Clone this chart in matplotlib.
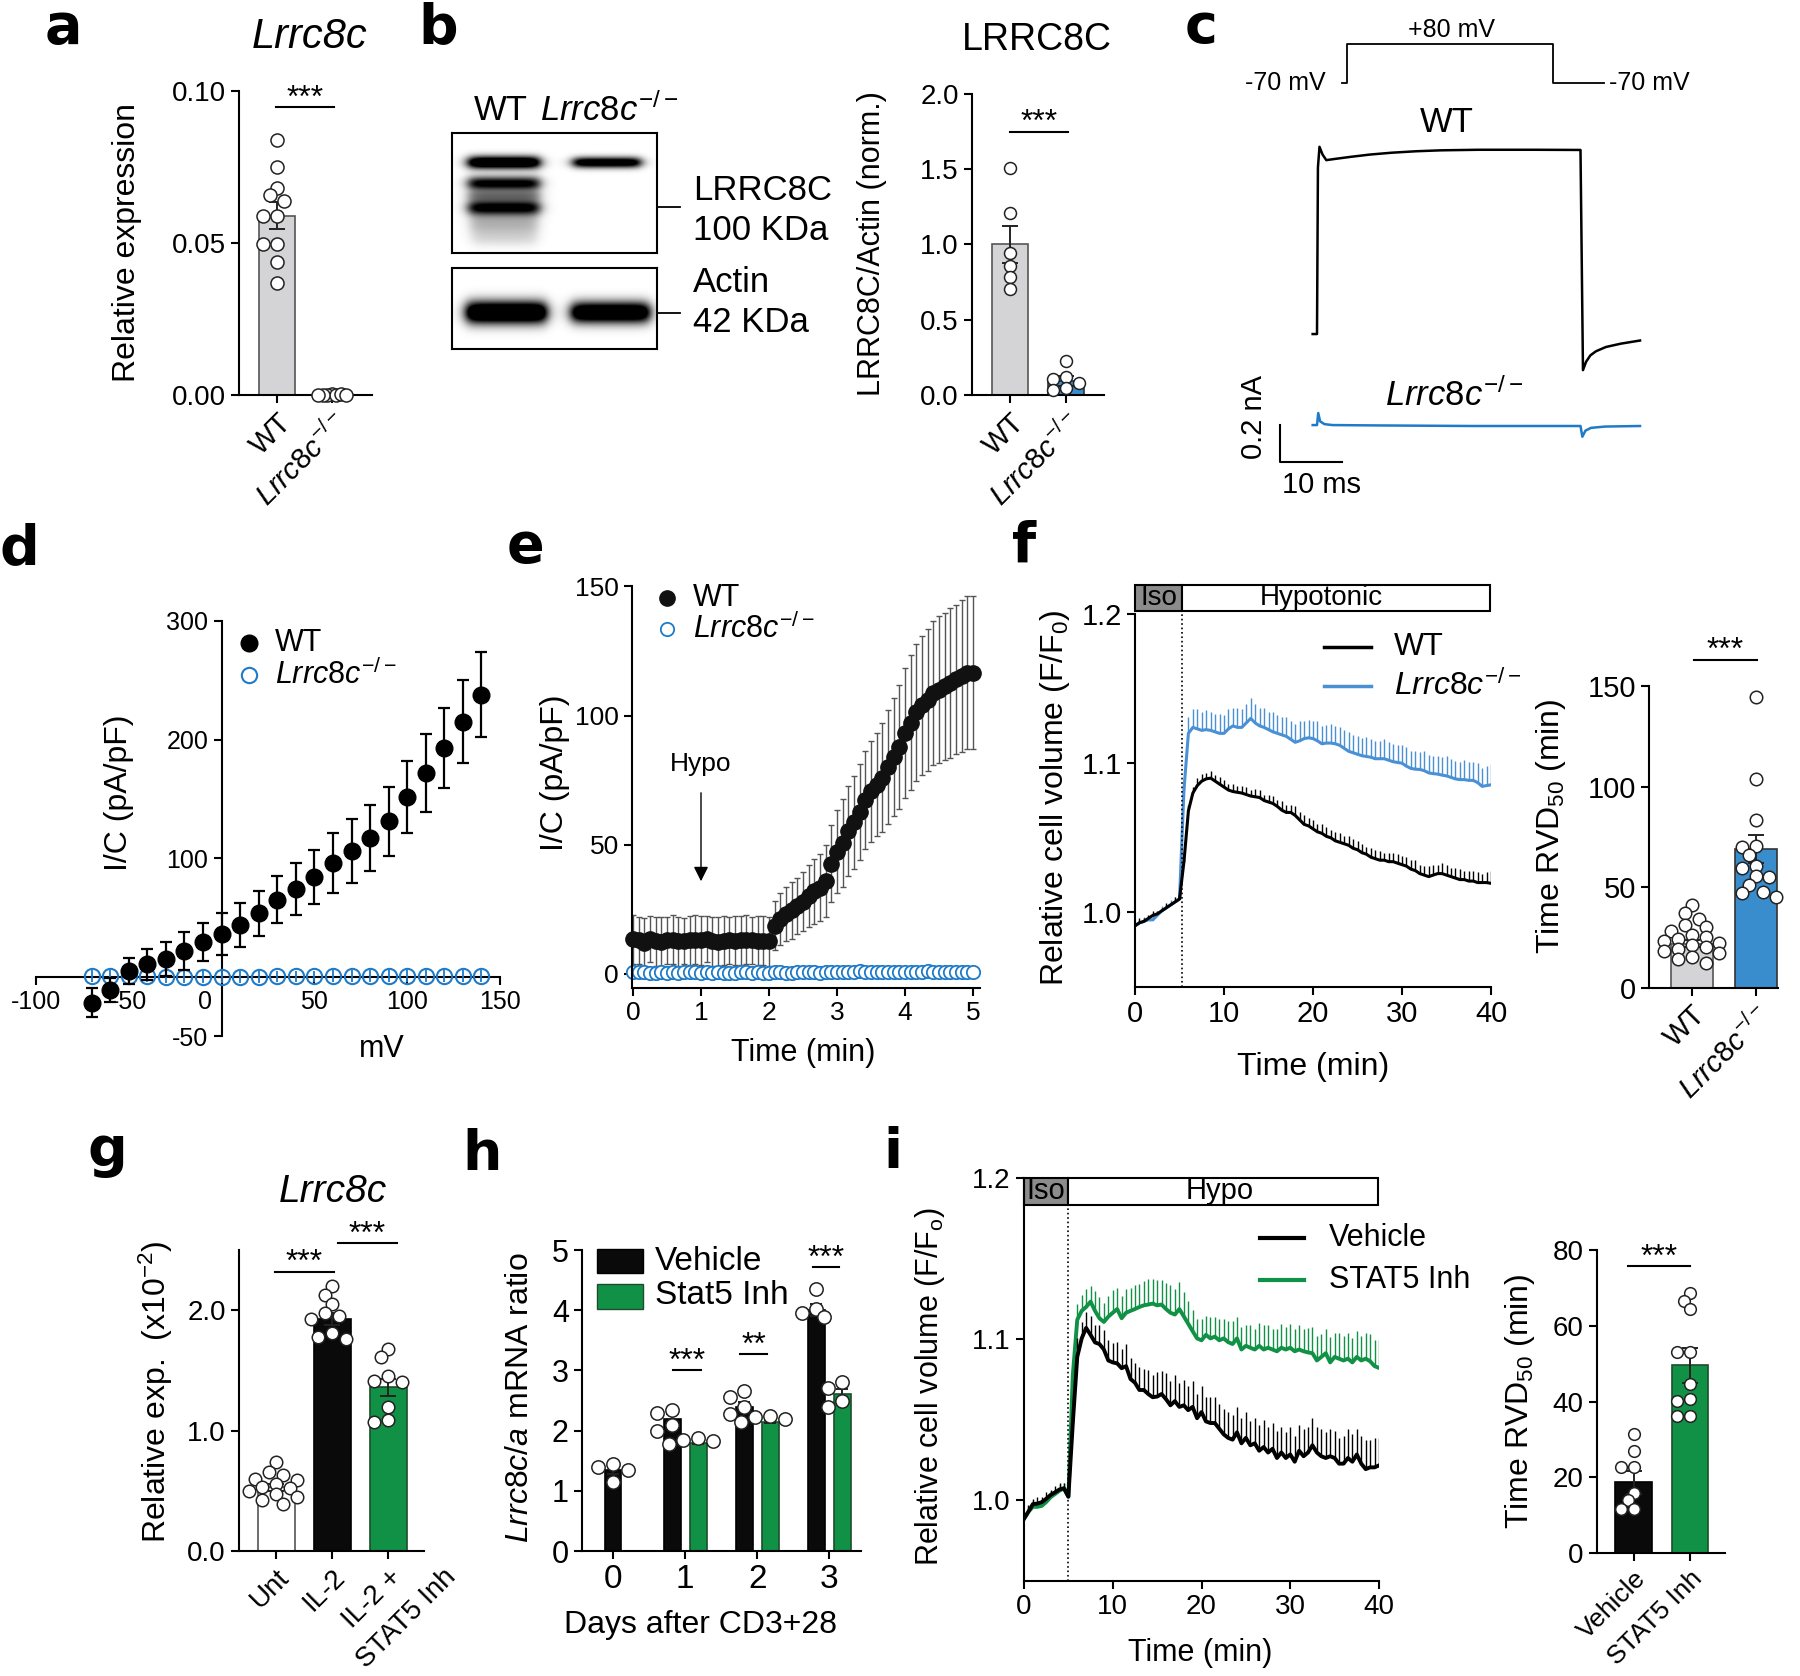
import numpy as np
import matplotlib
matplotlib.use("Agg")
import matplotlib.pyplot as plt
from matplotlib.patches import Rectangle
from matplotlib.lines import Line2D
from matplotlib.transforms import ScaledTranslation

plt.rcParams['font.family'] = ['Liberation Sans', 'DejaVu Sans']
plt.rcParams['mathtext.fontset'] = 'custom'
plt.rcParams['mathtext.rm'] = 'Liberation Sans'
plt.rcParams['mathtext.it'] = 'Liberation Sans:italic'
plt.rcParams['mathtext.bf'] = 'Liberation Sans:bold'
plt.rcParams['axes.unicode_minus'] = False
plt.rcParams['axes.linewidth'] = 1.5
plt.rcParams['xtick.major.width'] = 1.5
plt.rcParams['ytick.major.width'] = 1.5
plt.rcParams['xtick.major.size'] = 6
plt.rcParams['ytick.major.size'] = 6

KO = r'$\mathit{Lrrc8c}^{-/-}$'
BLUE = '#1f7bc8'
BLUE_F = '#4a90d4'
BLUE_BAR = '#3a8dcc'
GREEN = '#109146'
GREY_BAR = '#d4d4d6'

# ---------------- data ----------------
# a  qPCR Lrrc8c
a_means = [0.059, 0.0002]
a_sems = [0.0045, 0.0001]
a_wt_pts = [0.0838, 0.0750, 0.0682, 0.0657, 0.0637, 0.0588, 0.0588, 0.0498, 0.0498, 0.0438, 0.0369]
a_ko_pts = [0.0002, 0.0001, 0.0, 0.0001, 0.0002, 0.0, 0.0001]

# b  LRRC8C / actin
b_means = [1.0, 0.093]
b_sems = [0.12, 0.03]
b_wt_pts = [1.508, 1.208, 0.942, 0.854, 0.787, 0.703]
b_ko_pts = [0.226, 0.122, 0.104, 0.078, 0.044, 0.033]

# c  example currents (ms, nA) and voltage protocol
c_t_wt = [-0.7, 0.0, 0.15, 0.4, 0.9, 1.5, 3.0, 5.5, 8.5, 12.0, 16.0, 20.0, 26.0, 35.0, 42.5,
          42.9, 43.4, 44.1, 45.0, 46.6, 49.0, 52.1]
c_i_wt = [0.0, 0.0, 0.90, 1.012, 0.97, 0.94, 0.947, 0.958, 0.97, 0.98, 0.988, 0.993, 0.996, 0.996, 0.995,
          -0.195, -0.15, -0.115, -0.093, -0.07, -0.052, -0.035]
c_t_ko = [-0.7, 0.0, 0.2, 0.5, 1.2, 2.5, 10.0, 25.0, 42.5, 42.8, 43.3, 44.2, 46.5, 52.1]
c_i_ko = [0.0, 0.0, 0.065, 0.02, 0.005, 0.0, -0.002, -0.005, -0.005, -0.063, -0.03, -0.015, -0.008, -0.005]
c_step_t = [-0.8, 0.0, 0.0, 33.2, 33.2, 41.5]
c_step_v = [-70, -70, 80, 80, -70, -70]

# d  I/V relation
d_mv = [-70, -60, -50, -40, -30, -20, -10, 0, 10, 20, 30, 40, 50, 60, 70, 80, 90, 100, 110, 120, 130, 140]
d_wt = [-21.8, -11.0, 5.0, 10.6, 15.0, 22.0, 29.0, 36.0, 43.5, 53.5, 65.0, 74.0, 84.0, 96.0, 106.0,
        117.0, 131.0, 151.5, 171.5, 193.0, 215.0, 238.0]
d_wt_err = [12, 10, 11, 13, 14.5, 16, 16, 17.5, 18.5, 19, 20, 22, 23, 25, 27, 28, 29, 30.5, 33, 34, 35, 36]
d_ko = [0.5, 0.3, 0.2, 0.2, 0.1, 0.1, 0.0, 0.0, 0.1, 0.1, 0.2, 0.2, 0.2, 0.3, 0.3, 0.3, 0.4, 0.4, 0.4,
        0.5, 0.5, 0.5]
d_ko_err = 5.0

# e  current time course, sampled every 5 s
e_t = np.arange(61) * 5 / 60
e_wt = [13.5, 13.0, 12.0, 13.6, 12.6, 12.4, 13.0, 13.2, 12.6, 12.8, 13.1, 13.3, 13.0, 13.6, 12.6,
        12.5, 12.8, 13.0, 12.9, 13.1, 13.2, 13.0, 12.9, 12.8, 12.6,
        18.7, 21.3, 23.3, 24.7, 26.3, 28.0, 30.0, 32.0, 33.3, 36.0, 42.7, 47.3, 50.7, 55.3, 58.7,
        62.7, 67.3, 70.7, 73.3, 76.0, 80.0, 84.0, 88.0, 93.3, 97.3, 101.3, 104.0, 106.0, 108.7, 110.0,
        111.3, 112.7, 114.0, 115.3, 116.7, 116.7]
e_wt_err = [9.5, 9.0, 9.5, 9.0, 9.5, 9.5, 9.0, 9.5, 9.5, 9.0, 9.5, 9.5, 9.5, 9.0, 9.5,
            9.5, 9.5, 9.0, 9.5, 9.5, 9.5, 9.0, 9.5, 9.5, 9.5,
            9.5, 10.0, 10.5, 11.0, 11.0, 11.5, 12.0, 12.5, 13.0, 14.0, 15.0, 16.0, 17.0, 17.5, 18.0,
            18.5, 19.0, 19.5, 20.0, 21.0, 22.0, 23.0, 24.0, 25.0, 26.0, 26.5, 27.0, 27.5, 28.0, 28.5,
            28.5, 29.0, 29.0, 29.5, 29.5, 29.5]
e_ko = [0.8, 0.6, 0.7, 0.5, 0.3, 0.6, 0.4, 0.7, 0.5, 0.6,
        0.8, 0.6, 0.5, 0.7, 0.4, 0.6, 0.5, 0.3, 0.5, 0.6,
        0.7, 0.5, 0.6, 0.4, 0.5, 0.6, 0.7, 0.5, 0.4, 0.6,
        0.8, 0.7, 0.6, 0.5, 0.6, 0.7, 0.8, 0.6, 0.7, 0.9,
        1.2, 0.8, 0.7, 0.6, 0.7, 0.8, 0.6, 0.7, 0.9, 0.8,
        0.7, 0.8, 1.0, 0.9, 0.8, 0.7, 0.8, 0.6, 0.9, 0.8,
        0.9]
e_ko_err = 1.5

# f  cell volume (every 0.5 min) and RVD50
f_t = np.arange(81) * 0.5
f_wt = [0.991, 0.993, 0.994, 0.996, 0.998, 0.999, 1.001, 1.003, 1.005, 1.007,
        1.009, 1.034, 1.068, 1.080, 1.085, 1.088, 1.0895, 1.090, 1.088, 1.086,
        1.084, 1.082, 1.081, 1.0805, 1.080, 1.079, 1.078, 1.0775, 1.077, 1.075,
        1.074, 1.073, 1.071, 1.0685, 1.067, 1.067, 1.065, 1.062, 1.059, 1.058,
        1.056, 1.054, 1.053, 1.051, 1.050, 1.048, 1.047, 1.046, 1.045, 1.043,
        1.042, 1.040, 1.039, 1.037, 1.036, 1.035, 1.035, 1.034, 1.034, 1.033,
        1.032, 1.031, 1.029, 1.028, 1.026, 1.025, 1.024, 1.025, 1.026, 1.026,
        1.025, 1.024, 1.023, 1.022, 1.022, 1.021, 1.021, 1.020, 1.020, 1.020,
        1.0195]
f_wt_err = [0.002, 0.003, 0.002, 0.002, 0.003, 0.002, 0.002, 0.003, 0.002, 0.003,
            0.003, 0.004, 0.004, 0.004, 0.005, 0.005, 0.004, 0.005, 0.004, 0.005,
            0.005, 0.004, 0.005, 0.004, 0.005, 0.005, 0.004, 0.005, 0.005, 0.004,
            0.005, 0.005, 0.004, 0.006, 0.005, 0.005, 0.006, 0.005, 0.006, 0.005,
            0.006, 0.005, 0.006, 0.006, 0.005, 0.006, 0.006, 0.005, 0.006, 0.006,
            0.006, 0.006, 0.005, 0.006, 0.006, 0.006, 0.005, 0.006, 0.006, 0.006,
            0.006, 0.006, 0.006, 0.007, 0.006, 0.006, 0.007, 0.007, 0.006, 0.007,
            0.007, 0.006, 0.007, 0.007, 0.006, 0.007, 0.007, 0.007, 0.006, 0.007,
            0.008]
f_ko = [0.991, 0.993, 0.994, 0.995, 0.995, 0.998, 1.001, 1.003, 1.005, 1.007,
        1.009, 1.082, 1.120, 1.124, 1.123, 1.122, 1.1225, 1.122, 1.121, 1.120,
        1.120, 1.123, 1.125, 1.124, 1.124, 1.127, 1.130, 1.127, 1.125, 1.124,
        1.1225, 1.121, 1.120, 1.119, 1.118, 1.116, 1.114, 1.115, 1.1165, 1.117,
        1.1165, 1.115, 1.113, 1.1135, 1.1135, 1.113, 1.112, 1.110, 1.108, 1.107,
        1.106, 1.105, 1.1045, 1.104, 1.103, 1.103, 1.103, 1.102, 1.101, 1.1005,
        1.100, 1.098, 1.0965, 1.096, 1.0958, 1.095, 1.0935, 1.093, 1.0927, 1.092,
        1.0915, 1.0905, 1.0895, 1.089, 1.089, 1.0885, 1.0885, 1.087, 1.0845, 1.085,
        1.0855]
f_ko_err = [0.003, 0.002, 0.003, 0.002, 0.003, 0.002, 0.003, 0.002, 0.003, 0.003,
            0.003, 0.008, 0.011, 0.012, 0.013, 0.012, 0.013, 0.012, 0.012, 0.013,
            0.012, 0.013, 0.012, 0.013, 0.012, 0.013, 0.014, 0.013, 0.012, 0.013,
            0.012, 0.013, 0.012, 0.012, 0.013, 0.012, 0.012, 0.013, 0.012, 0.012,
            0.012, 0.013, 0.012, 0.012, 0.013, 0.012, 0.012, 0.012, 0.013, 0.012,
            0.012, 0.012, 0.013, 0.012, 0.012, 0.012, 0.013, 0.012, 0.012, 0.012,
            0.012, 0.013, 0.012, 0.012, 0.012, 0.013, 0.012, 0.012, 0.012, 0.012,
            0.013, 0.012, 0.012, 0.012, 0.013, 0.012, 0.012, 0.013, 0.012, 0.013,
            0.014]
f_rvd_means = [21.8, 68.8]
f_rvd_sems = [1.8, 7.0]
f_rvd_wt = [41, 37, 34, 31, 30, 28, 26, 25, 24, 23, 22, 21, 20, 19, 18, 17, 15, 14, 12]
f_rvd_ko = [144.5, 103.7, 83.3, 70.6, 70.0, 66.1, 60.5, 59.5, 55.5, 55.0, 51.0, 47.5, 47.0, 44.9]

# g  Lrrc8c after IL-2
g_groups = ['Unt', 'IL-2', 'IL-2 +\nSTAT5 Inh']
g_means = [0.53, 1.93, 1.36]
g_sems = [0.03, 0.05, 0.07]
g_pts = [[0.74, 0.66, 0.63, 0.60, 0.59, 0.56, 0.53, 0.52, 0.50, 0.47, 0.45, 0.42, 0.39],
         [2.20, 2.13, 2.05, 1.98, 1.95, 1.93, 1.81, 1.78, 1.76],
         [1.68, 1.61, 1.45, 1.41, 1.40, 1.20, 1.09, 1.07]]

# h  Lrrc8c/a ratio after CD3+28
h_days = [0, 1, 2, 3]
h_veh_means = [1.35, 2.20, 2.40, 4.00]
h_veh_sems = [0.07, 0.08, 0.08, 0.10]
h_veh_pts = [[1.45, 1.40, 1.35, 1.15], [2.35, 2.30, 2.10, 2.00],
             [2.65, 2.55, 2.40, 2.28], [4.35, 4.02, 3.95, 3.88]]
h_stat_days = [1, 2, 3]
h_stat_means = [1.80, 2.15, 2.60]
h_stat_sems = [0.02, 0.03, 0.09]
h_stat_pts = [[1.88, 1.85, 1.82, 1.78], [2.25, 2.22, 2.20, 2.15], [2.80, 2.70, 2.50, 2.40]]

# i  cell volume with STAT5 inhibitor (every 0.5 min) and RVD50
i_t = np.arange(81) * 0.5
i_veh = [0.9886, 0.993, 0.9977, 0.998, 0.9989, 1.001, 1.0034, 1.005, 1.0068, 1.0075,
         1.0023, 1.048, 1.089, 1.1005, 1.107, 1.1027, 1.098, 1.097, 1.0936, 1.0868,
         1.0856, 1.085, 1.082, 1.0833, 1.0753, 1.073, 1.0685, 1.0685, 1.066, 1.064,
         1.0644, 1.066, 1.0628, 1.059, 1.0616, 1.058, 1.059, 1.056, 1.058, 1.051,
         1.0548, 1.049, 1.048, 1.048, 1.0445, 1.041, 1.0388, 1.0377, 1.0422, 1.0354,
         1.0388, 1.0342, 1.0354, 1.0308, 1.0331, 1.0297, 1.032, 1.0263, 1.0297, 1.0263,
         1.0285, 1.024, 1.0308, 1.0274, 1.0297, 1.0342, 1.0297, 1.0274, 1.0263, 1.0274,
         1.0263, 1.0228, 1.0228, 1.0263, 1.024, 1.0285, 1.0228, 1.0194, 1.0205, 1.0205,
         1.0217]
i_veh_err = [0.003, 0.004, 0.003, 0.004, 0.003, 0.004, 0.003, 0.004, 0.004, 0.003,
             0.004, 0.008, 0.012, 0.010, 0.010, 0.012, 0.011, 0.012, 0.012, 0.013,
             0.012, 0.013, 0.012, 0.014, 0.013, 0.012, 0.014, 0.013, 0.015, 0.014,
             0.015, 0.014, 0.016, 0.015, 0.016, 0.015, 0.016, 0.015, 0.016, 0.015,
             0.016, 0.015, 0.016, 0.016, 0.015, 0.016, 0.016, 0.015, 0.016, 0.016,
             0.016, 0.015, 0.016, 0.016, 0.017, 0.016, 0.016, 0.017, 0.016, 0.016,
             0.017, 0.016, 0.016, 0.017, 0.016, 0.017, 0.016, 0.017, 0.016, 0.017,
             0.017, 0.016, 0.017, 0.018, 0.017, 0.016, 0.017, 0.018, 0.017, 0.018,
             0.017]
i_stat = [0.9886, 0.993, 0.996, 0.996, 0.9966, 0.999, 1.002, 1.004, 1.006, 1.0075,
          1.0023, 1.0776, 1.112, 1.1176, 1.12, 1.1233, 1.1176, 1.113, 1.1107, 1.114,
          1.1164, 1.1187, 1.113, 1.1164, 1.1176, 1.1187, 1.12, 1.121, 1.1215, 1.1221,
          1.121, 1.1215, 1.1187, 1.1164, 1.1153, 1.1187, 1.1142, 1.1096, 1.105, 1.1005,
          1.0993, 1.1027, 1.1005, 1.1016, 1.0993, 1.1005, 1.0982, 1.097, 1.1005, 1.0936,
          1.0959, 1.0947, 1.0936, 1.0959, 1.0936, 1.0947, 1.0936, 1.0925, 1.0947, 1.0936,
          1.0947, 1.0925, 1.0936, 1.0925, 1.0918, 1.0913, 1.0868, 1.089, 1.0913, 1.0856,
          1.089, 1.0879, 1.0868, 1.0879, 1.0856, 1.089, 1.0868, 1.0879, 1.0863, 1.0833,
          1.0822]
i_stat_err = [0.003, 0.003, 0.004, 0.003, 0.004, 0.003, 0.004, 0.003, 0.004, 0.003,
              0.004, 0.008, 0.010, 0.010, 0.011, 0.010, 0.012, 0.013, 0.012, 0.013,
              0.014, 0.013, 0.014, 0.015, 0.014, 0.015, 0.014, 0.015, 0.016, 0.015,
              0.016, 0.015, 0.016, 0.017, 0.016, 0.017, 0.015, 0.014, 0.013, 0.012,
              0.013, 0.012, 0.013, 0.012, 0.013, 0.012, 0.013, 0.014, 0.013, 0.014,
              0.013, 0.014, 0.013, 0.014, 0.015, 0.014, 0.013, 0.014, 0.015, 0.014,
              0.015, 0.014, 0.015, 0.014, 0.015, 0.016, 0.015, 0.014, 0.015, 0.016,
              0.015, 0.016, 0.015, 0.016, 0.015, 0.016, 0.015, 0.016, 0.017, 0.016,
              0.017]
i_rvd_means = [18.7, 49.6]
i_rvd_sems = [3.0, 4.6]
i_rvd_veh = [31.4, 27.0, 22.6, 22.6, 15.8, 13.9, 11.7, 11.7]
i_rvd_stat = [68.7, 66.5, 64.4, 53.2, 53.2, 44.5, 40.6, 40.1, 36.2, 36.2]

# ---------------- helpers ----------------
W, H = 1800, 1676
fig = plt.figure(figsize=(W / 100, H / 100), dpi=100)


def axes_px(l, t, r, b):
    return fig.add_axes([l / W, 1 - b / H, (r - l) / W, (b - t) / H])


def ftext(x, y, s, **kw):
    fig.text(x / W, 1 - y / H, s, **kw)


def fline(xs, ys, **kw):
    fig.add_artist(Line2D([x / W for x in xs], [1 - y / H for y in ys],
                          transform=fig.transFigure, **kw))


def style(ax, fs=20):
    ax.spines['top'].set_visible(False)
    ax.spines['right'].set_visible(False)
    ax.tick_params(labelsize=fs)


def swarm_x(ax, x0, vals, diam, sep=0.8):
    tr = ax.transData
    cx = tr.transform((x0, 0))[0]
    placed, xs = [], []
    step = min(0.55, sep) * diam
    for v in vals:
        py = tr.transform((x0, v))[1]
        px = cx
        for k in [0, -1, 1, -2, 2, -3, 3, -4, 4, -5, 5]:
            px = cx + k * step
            if all((px - qx) ** 2 + (py - qy) ** 2 >= (sep * diam) ** 2 for qx, qy in placed):
                break
        placed.append((px, py))
        xs.append(tr.inverted().transform((px, py))[0])
    return xs


def bars(ax, xpos, means, sems, pts, colors, edges, width, ms, capsize=6, seps=None):
    ax.bar(xpos, means, width, color=colors, edgecolor=edges, linewidth=1.2, zorder=1)
    ax.errorbar(xpos, means, yerr=sems, fmt='none', ecolor='#222222', elinewidth=1.4,
                capsize=capsize, capthick=1.4, zorder=2)
    diam = ms * 100 / 72
    if seps is None:
        seps = [0.8] * len(xpos)
    for x0, vals, sp in zip(xpos, pts, seps):
        ax.plot(swarm_x(ax, x0, vals, diam, sp), vals, 'o', ms=ms, mfc='white', mec='#222222',
                mew=1.1, zorder=3, clip_on=False)


def sig(ax, x0, x1, y, label, fs=23):
    ax.plot([x0, x1], [y, y], color='black', lw=1.5, clip_on=False)
    ax.annotate(label, ((x0 + x1) / 2, y), xytext=(0, 0.5), textcoords='offset points',
                ha='center', va='baseline', fontsize=fs, annotation_clip=False)


def rot_labels(ax, labels, fs=20):
    ax.set_xticklabels(labels, rotation=45, ha='right', rotation_mode='anchor', fontsize=fs)


# ---------------- a ----------------
ax = axes_px(239, 91, 372, 395)
style(ax)
ax.set_xlim(-0.69, 1.73)
ax.set_ylim(0, 0.10)
ax.set_yticks([0, 0.05, 0.10])
ax.set_yticklabels(['0.00', '0.05', '0.10'])
bars(ax, [0, 1], a_means, a_sems, [a_wt_pts, a_ko_pts], [GREY_BAR, GREY_BAR], ['#555555', '#555555'],
     0.65, 9.4, seps=[0.8, 0.35])
ax.set_xticks([0, 1])
rot_labels(ax, ['WT', KO], 21)
sig(ax, -0.02, 1.04, 0.0947, '***')
ftext(127, 243, 'Relative expression', rotation=90, ha='center', va='center', fontsize=23)
ftext(310, 37, 'Lrrc8c', style='italic', ha='center', va='center', fontsize=30)

# ---------------- b blot ----------------
def blot(l, t, r, b, bands):
    axb = axes_px(l, t, r, b)
    img = np.zeros((int(b - t), int(r - l)))
    yy, xx = np.mgrid[0:img.shape[0], 0:img.shape[1]]
    for x0, x1, yc, sy, amp in bands:
        prof = 1 / (1 + np.exp(-(xx - x0) / 3.5)) / (1 + np.exp(-(x1 - xx) / 3.5))
        img += amp * np.exp(-0.5 * ((yy - yc) / sy) ** 2) * prof
    axb.imshow(img, cmap='gray_r', vmin=0, vmax=1, aspect='auto', interpolation='bilinear')
    axb.set_xticks([])
    axb.set_yticks([])
    for s in axb.spines.values():
        s.set_linewidth(1.5)


blot(452, 133, 657, 253, [(16, 87, 29, 4.5, 1.5), (121, 188, 29, 3.8, 1.3), (16, 87, 50, 5, 1.1),
                          (16, 87, 74, 5.5, 1.1), (16, 87, 62, 4, 0.45), (18, 85, 90, 8, 0.3),
                          (20, 84, 105, 6, 0.12)])
blot(452, 268, 657, 349, [(14, 94, 44, 8, 1.6), (119, 197, 44, 7.5, 1.5)])
ftext(501, 110, 'WT', ha='center', va='center', fontsize=25)
ftext(609, 110, KO, ha='center', va='center', fontsize=25)
fline([658, 680], [207, 207], color='black', lw=1.3)
fline([658, 680], [313, 313], color='black', lw=1.3)
ftext(693, 190, 'LRRC8C', ha='left', va='center', fontsize=25)
ftext(693, 230, '100 KDa', ha='left', va='center', fontsize=25)
ftext(693, 283, 'Actin', ha='left', va='center', fontsize=25)
ftext(693, 323, '42 KDa', ha='left', va='center', fontsize=25)

# ---------------- b bars ----------------
ax = axes_px(972, 94, 1104, 395)
style(ax)
ax.set_xlim(-0.68, 1.68)
ax.set_ylim(0, 2)
ax.set_yticks([0, 0.5, 1.0, 1.5, 2.0])
ax.set_yticklabels(['0.0', '0.5', '1.0', '1.5', '2.0'])
bars(ax, [0, 1], b_means, b_sems, [b_wt_pts, b_ko_pts], [GREY_BAR, BLUE_BAR], ['#555555', '#333333'], 0.66, 8.6)
ax.set_xticks([0, 1])
rot_labels(ax, ['WT', KO], 21)
sig(ax, 0.0, 1.03, 1.75, '***')
ftext(872, 244, 'LRRC8C/Actin (norm.)', rotation=90, ha='center', va='center', fontsize=22)
ftext(1037, 40, 'LRRC8C', ha='center', va='center', fontsize=27)

# ---------------- c ----------------
axp = axes_px(1240, 20, 1680, 100)
axp.axis('off')
axp.set_xlim(-17.26, 53.7)
axp.set_ylim(-135.4, 172.3)
axp.plot(c_step_t, c_step_v, color='black', lw=1.3)
axp.text(16.8, 133.8, '+80 mV', ha='center', va='center', fontsize=18)
axp.text(-3.4, -70, '-70 mV', ha='right', va='center', fontsize=18)
axp.text(42.3, -70, '-70 mV', ha='left', va='center', fontsize=18)

axc = axes_px(1240, 100, 1680, 500)
axc.axis('off')
axc.set_xlim(-12.42, 58.55)
axc.set_ylim(-0.897, 1.265)
C_KO_OFFSET = -0.492
axc.plot(c_t_wt, c_i_wt, color='black', lw=1.8)
axc.plot(c_t_ko, np.array(c_i_ko) + C_KO_OFFSET, color=BLUE, lw=1.8)
axc.plot([-5.97, -5.97, 4.03], [C_KO_OFFSET, C_KO_OFFSET - 0.2, C_KO_OFFSET - 0.2], color='black', lw=1.5)
axc.text(-10.16, -0.449, '0.2 nA', rotation=90, ha='center', va='center', fontsize=21)
axc.text(0.8, -0.816, '10 ms', ha='center', va='center', fontsize=21)
axc.text(21.0, 1.146, 'WT', ha='center', va='center', fontsize=25)
axc.text(22.1, -0.33, KO, ha='center', va='center', fontsize=25)

# ---------------- d ----------------
ax = axes_px(36, 621, 500, 1036)
style(ax, 18)
ax.set_xlim(-100, 150)
ax.set_ylim(-50, 300)
ax.spines['left'].set_position(('data', 0))
ax.spines['bottom'].set_position(('data', 0))
ax.set_xticks([-100, -50, 0, 50, 100, 150])
ax.set_xticklabels(['-100', '-50', '0', '50', '100', '150'])
ax.set_yticks([-50, 0, 100, 200, 300])
ax.set_yticklabels(['-50', '', '100', '200', '300'])
zero_lab = ax.get_xticklabels()[2]
zero_lab.set_transform(zero_lab.get_transform() + ScaledTranslation(-0.17, 0, fig.dpi_scale_trans))
ax.errorbar(d_mv, d_ko, yerr=d_ko_err, fmt='o', ms=11, mfc='none', mec=BLUE, mew=1.5,
            ecolor=BLUE, elinewidth=1.3, capsize=0, zorder=3, clip_on=False)
ax.errorbar(d_mv, d_wt, yerr=d_wt_err, fmt='o', ms=12, color='black', ecolor='black',
            elinewidth=1.6, capsize=4, capthick=1.6, zorder=4, clip_on=False)
fig.add_artist(Line2D([249 / W], [1 - 643 / H], marker='o', ms=12, color='black', transform=fig.transFigure))
fig.add_artist(Line2D([249 / W], [1 - 675 / H], marker='o', ms=11, mfc='none', mec=BLUE, mew=1.5,
                      transform=fig.transFigure))
ftext(275, 643, 'WT', ha='left', va='center', fontsize=22)
ftext(275, 675, KO, ha='left', va='center', fontsize=22)
ftext(119, 793, 'I/C (pA/pF)', rotation=90, ha='center', va='center', fontsize=23)
ftext(382, 1049, 'mV', ha='center', va='center', fontsize=22)

# ---------------- e ----------------
ax = axes_px(632, 586.5, 980, 987.6)
style(ax, 19)
ax.set_xlim(-0.015, 5.104)
ax.set_ylim(-5.3, 150)
ax.set_yticks([0, 50, 100, 150])
ax.set_xticks([0, 1, 2, 3, 4, 5])
ax.errorbar(e_t, e_wt, yerr=e_wt_err, fmt='none', ecolor='#555555', elinewidth=1.0, capsize=2.5,
            capthick=1.0, zorder=1)
ax.errorbar(e_t, e_ko, yerr=e_ko_err, fmt='o', ms=9.6, mfc='white', mec=BLUE, mew=1.3,
            ecolor=BLUE, elinewidth=1.0, zorder=2, clip_on=False)
ax.plot(e_t, e_wt, 'o', ms=11, color='#111111', zorder=3, clip_on=False)
ax.annotate('', xy=(1, 34.8), xytext=(1, 71.2),
            arrowprops=dict(arrowstyle='-|>', color='black', lw=1.0, mutation_scale=22))
ax.text(1, 81.3, 'Hypo', ha='center', va='center', fontsize=19)
fig.add_artist(Line2D([667 / W], [1 - 598.5 / H], marker='o', ms=11, color='#111111', transform=fig.transFigure))
fig.add_artist(Line2D([667 / W], [1 - 629 / H], marker='o', ms=9.6, mfc='white', mec=BLUE, mew=1.3,
                      transform=fig.transFigure))
ftext(693, 598.5, 'WT', ha='left', va='center', fontsize=22)
ftext(693, 629, KO, ha='left', va='center', fontsize=22)
ftext(555, 773, 'I/C (pA/pF)', rotation=90, ha='center', va='center', fontsize=23)
ftext(803, 1053, 'Time (min)', ha='center', va='center', fontsize=22)

# ---------------- f volume ----------------
ax = axes_px(1135, 614, 1491, 987)
style(ax, 21)
ax.set_xlim(0, 40)
ax.set_ylim(0.95, 1.2)
ax.set_yticks([1.0, 1.1, 1.2])
ax.set_xticks([0, 10, 20, 30, 40])
ax.vlines(f_t, f_ko, np.array(f_ko) + np.array(f_ko_err), color=BLUE_F, lw=1.0)
ax.plot(f_t, f_ko, color=BLUE_F, lw=2.2)
ax.vlines(f_t, f_wt, np.array(f_wt) + np.array(f_wt_err), color='black', lw=1.0)
ax.plot(f_t, f_wt, color='black', lw=2.2)
ax.plot([5.3, 5.3], [0.95, 1.202], ls=':', color='black', lw=1.2)
ax.add_patch(Rectangle((0, 1.202), 5.3, 0.0175, facecolor='#8c8c8c', edgecolor='black', lw=1.5, clip_on=False))
ax.add_patch(Rectangle((5.3, 1.202), 34.6, 0.0175, facecolor='white', edgecolor='black', lw=1.5, clip_on=False))
ax.text(2.65, 1.2105, 'Iso', ha='center', va='center', fontsize=20)
ax.text(20.9, 1.2105, 'Hypotonic', ha='center', va='center', fontsize=20)
fline([1324, 1371], [647, 647], color='black', lw=2.5)
fline([1324, 1371], [686, 686], color=BLUE_F, lw=2.5)
ftext(1394, 647, 'WT', ha='left', va='center', fontsize=23)
ftext(1394, 686, KO, ha='left', va='center', fontsize=23)
ftext(1055, 798, r'Relative cell volume (F/F$_0$)', rotation=90, ha='center', va='center', fontsize=23)
ftext(1313, 1067, 'Time (min)', ha='center', va='center', fontsize=23)

# ---------------- f RVD50 ----------------
ax = axes_px(1649, 686, 1778, 987.5)
style(ax, 21)
ax.set_xlim(-0.67, 1.35)
ax.set_ylim(0, 150)
ax.set_yticks([0, 50, 100, 150])
bars(ax, [0, 1], f_rvd_means, f_rvd_sems, [f_rvd_wt, f_rvd_ko], [GREY_BAR, BLUE_BAR], ['#555555', '#333333'], 0.66, 9)
ax.set_xticks([0, 1])
rot_labels(ax, ['WT', KO], 21)
sig(ax, 0.03, 1.02, 163, '***')
ftext(1551, 826, r'Time RVD$_{50}$ (min)', rotation=90, ha='center', va='center', fontsize=23)

# ---------------- g ----------------
ax = axes_px(239, 1250, 424, 1551)
style(ax)
ax.set_xlim(-0.66, 2.64)
ax.set_ylim(0, 2.5)
ax.set_yticks([0, 1, 2])
ax.set_yticklabels(['0.0', '1.0', '2.0'])
bars(ax, [0, 1, 2], g_means, g_sems, g_pts, ['white', '#0a0a0a', GREEN], ['#555555', 'black', '#1d4d2c'], 0.66, 9)
ax.set_xticks([0, 1, 2])
g_first = [g.split('\n')[0] for g in g_groups]
rot_labels(ax, g_first)
# second line of the last group label, centred under the first line
ax.annotate(g_groups[2].split('\n')[1], (2, 0), xytext=(39.6, -9.5), textcoords='offset points',
            rotation=45, ha='right', va='top', rotation_mode='anchor', fontsize=20, annotation_clip=False)
sig(ax, -0.02, 1.03, 2.32, '***')
sig(ax, 1.1, 2.16, 2.556, '***')
ftext(156, 1392, r'Relative exp.  (x10$^{-2}$)', rotation=90, ha='center', va='center', fontsize=23)
ftext(333, 1192, 'Lrrc8c', style='italic', ha='center', va='center', fontsize=28)

# ---------------- h ----------------
ax = axes_px(582, 1250, 861, 1551)
style(ax, 22)
ax.set_xlim(-0.43, 3.44)
ax.set_ylim(0, 5)
ax.set_yticks([0, 1, 2, 3, 4, 5])
ax.set_xticks(h_days)
ax.tick_params(axis='x', labelsize=24)
veh_x = [d - 0.18 if d > 0 else d for d in h_days]
stat_x = [d + 0.18 for d in h_stat_days]
bars(ax, veh_x, h_veh_means, h_veh_sems, h_veh_pts, ['#0a0a0a'] * 4, ['black'] * 4, 0.235, 9.6, 4)
bars(ax, stat_x, h_stat_means, h_stat_sems, h_stat_pts, [GREEN] * 3, ['#1d4d2c'] * 3, 0.235, 9.6, 4)
sig(ax, 0.83, 1.22, 3.0, '***')
sig(ax, 1.76, 2.14, 3.27, '**')
sig(ax, 2.78, 3.14, 4.71, '***')
fig.patches.append(Rectangle((597 / W, 1 - 1273 / H), 46 / W, 24 / H, transform=fig.transFigure,
                             facecolor='#0a0a0a', edgecolor='black', lw=1))
fig.patches.append(Rectangle((597 / W, 1 - 1309 / H), 46 / W, 25 / H, transform=fig.transFigure,
                             facecolor=GREEN, edgecolor='#1d4d2c', lw=1))
ftext(655, 1261, 'Vehicle', ha='left', va='center', fontsize=24)
ftext(655, 1296, 'Stat5 Inh', ha='left', va='center', fontsize=24)
ftext(520, 1398, r'$\mathit{Lrrc8c/a}$ mRNA ratio', rotation=90, ha='center', va='center', fontsize=23)
ftext(700, 1625, 'Days after CD3+28', ha='center', va='center', fontsize=23)

# ---------------- i volume ----------------
ax = axes_px(1024, 1178, 1379, 1581)
style(ax, 20)
ax.set_xlim(0, 40)
ax.set_ylim(0.95, 1.2)
ax.set_yticks([1.0, 1.1, 1.2])
ax.set_xticks([0, 10, 20, 30, 40])
ax.vlines(i_t, i_stat, np.array(i_stat) + np.array(i_stat_err), color=GREEN, lw=1.0)
ax.plot(i_t, i_stat, color=GREEN, lw=2.8)
ax.vlines(i_t, i_veh, np.array(i_veh) + np.array(i_veh_err), color='black', lw=1.0)
ax.plot(i_t, i_veh, color='black', lw=2.8)
ax.plot([4.95, 4.95], [0.95, 1.1834], ls=':', color='black', lw=1.2)
ax.add_patch(Rectangle((0, 1.1834), 4.95, 0.0166, facecolor='#8c8c8c', edgecolor='black', lw=1.5, clip_on=False))
ax.add_patch(Rectangle((4.95, 1.1834), 34.95, 0.0166, facecolor='white', edgecolor='black', lw=1.5, clip_on=False))
ax.text(2.5, 1.1917, 'Iso', ha='center', va='center', fontsize=21)
ax.text(22.1, 1.1917, 'Hypo', ha='center', va='center', fontsize=21)
fline([1260, 1304], [1238, 1238], color='black', lw=3)
fline([1260, 1304], [1280, 1280], color=GREEN, lw=3)
ftext(1329, 1238, 'Vehicle', ha='left', va='center', fontsize=22)
ftext(1329, 1280, 'STAT5 Inh', ha='left', va='center', fontsize=22)
ftext(930, 1387, r'Relative cell volume (F/F$_\mathrm{o}$)', rotation=90, ha='center', va='center', fontsize=22)
ftext(1200, 1653, 'Time (min)', ha='center', va='center', fontsize=22)

# ---------------- i RVD50 ----------------
ax = axes_px(1597, 1250, 1725, 1553)
style(ax, 20)
ax.set_xlim(-0.66, 1.625)
ax.set_ylim(0, 80)
ax.set_yticks([0, 20, 40, 60, 80])
bars(ax, [0, 1], i_rvd_means, i_rvd_sems, [i_rvd_veh, i_rvd_stat], ['#0a0a0a', GREEN], ['black', '#1d4d2c'], 0.66, 8.4)
ax.set_xticks([0, 1])
rot_labels(ax, ['Vehicle', 'STAT5 Inh'], 19)
sig(ax, -0.1, 1.0, 75.7, '***')
ftext(1520, 1401, r'Time RVD$_{50}$ (min)', rotation=90, ha='center', va='center', fontsize=23)

# ---------------- panel letters ----------------
for letter, x, y in [('a', 45, 43), ('b', 418, 43), ('c', 1185, 43), ('d', 0, 564), ('e', 507, 562),
                     ('f', 1012, 562), ('g', 88, 1166), ('h', 462, 1170), ('i', 883, 1168)]:
    ftext(x, y, letter, fontsize=40, fontweight='bold', ha='left', va='baseline', family='DejaVu Sans')

fig.savefig('out.png', dpi=100)
